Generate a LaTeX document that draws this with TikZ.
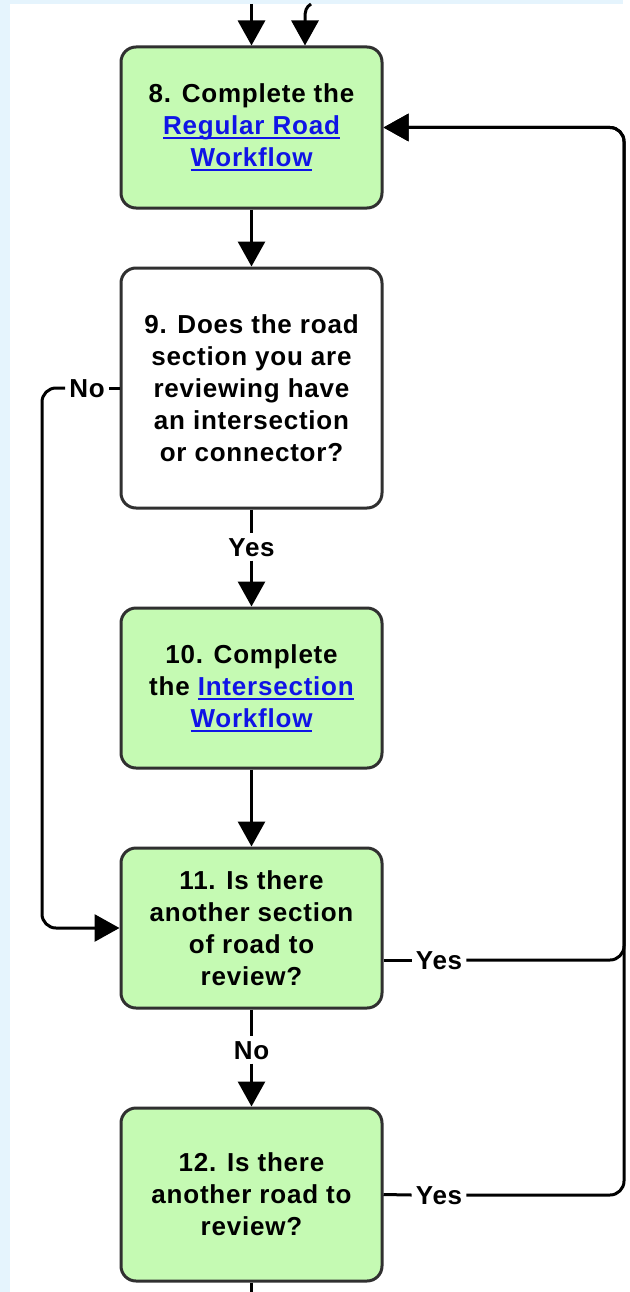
\documentclass[tikz,border=0pt]{standalone}
\usepackage{fontspec}
\setmainfont{Liberation Sans}[LetterSpace=3]
\usetikzlibrary{arrows.meta,calc}

\definecolor{pageblue}{RGB}{229,244,253}
\definecolor{stepgreen}{RGB}{197,250,179}
\definecolor{boxline}{RGB}{48,48,48}
\definecolor{linkblue}{RGB}{16,20,230}

% underlined hyperlink-style text at a fixed depth
\newcommand\lnk[1]{{\color{linkblue}\setbox0=\hbox{#1}\rlap{\rule[-4.5pt]{\wd0}{2pt}}\box0}}

\tikzset{
  stepbox/.style={draw=boxline, line width=3pt, rounded corners=15pt,
    minimum width=261pt, align=center, inner sep=0pt,
    font=\fontsize{26}{32}\selectfont\bfseries},
  greenbox/.style={stepbox, fill=stepgreen},
  whitebox/.style={stepbox, fill=white},
  conn/.style={line width=3pt, black},
  arr/.style={conn, -{Triangle[length=25pt,width=27pt]}},
  lbl/.style={fill=white, inner xsep=4pt, inner ysep=4pt, text height=19pt, text depth=0pt,
    font=\fontsize{26}{32}\selectfont\bfseries},
}

\begin{document}
\begin{tikzpicture}[x=1pt, y=-1pt]
  \useasboundingbox (0,0) rectangle (629,1292);
  % page background and panel
  \fill[pageblue] (0,0) rectangle (629,1292);
  \fill[white] (10,4) rectangle (629,1292);
  \fill[white] (623,0) rectangle (629,4);

  % steps
  \node[greenbox, minimum height=161pt] (b8) at (251.5,127.5)
    {8. Complete the\\ \lnk{Regular Road}\\ \lnk{Workflow}};
  \node[whitebox, minimum height=240pt] (b9) at (251.5,388)
    {9. Does the road\\ section you are\\ reviewing have\\ an intersection\\ or connector?};
  \node[greenbox, minimum height=160pt] (b10) at (251.5,688)
    {10. Complete\\ the \lnk{Intersection}\\ \lnk{Workflow}};
  \node[greenbox, minimum height=160pt] (b11) at (251.5,928)
    {11. Is there\\ another section\\ of road to\\ review?};
  \node[greenbox, minimum height=173pt] (b12) at (251.5,1194.5)
    {12. Is there\\ another road to\\ review?};

  % labels on connectors
  \node[lbl] (y9) at (251.5,547) {Yes};
  \node[lbl] (n9) at (87,388) {No};
  \node[lbl] (y11) at (439,960) {Yes};
  \node[lbl] (n11) at (251.5,1050) {No};
  \node[lbl] (y12) at (439,1195) {Yes};

  % rails and free ends
  \coordinate (rail) at (624,127.5);
  \coordinate (lrail) at (42,388);
  \coordinate (top1) at (251.5,4);
  \coordinate (top2) at (311,4);
  \coordinate (bot) at (251.5,1292);

  % incoming arrows from above
  \draw[arr] (top1) -- (b8.north);
  \draw[arr] (top2) .. controls (306,7) and (305,11) .. (305,18) -- ([xshift=53.5pt]b8.north);

  % main flow
  \draw[arr] (b8.south) -- (b9.north);
  \draw[conn] (b9.south) -- (y9.north);
  \draw[arr] (y9.south) -- (b10.north);
  \draw[arr] (b10.south) -- (b11.north);
  \draw[conn] (b11.south) -- (n11.north);
  \draw[arr] (n11.south) -- (b12.north);
  \draw[conn] (b12.south) -- (bot);

  % "No" branch around the left
  \draw[conn] (b9.west) -- (n9.east);
  \draw[arr, rounded corners=14pt] (n9.west) -- (lrail) -- (lrail |- b11.west) -- (b11.west);

  % "Yes" loops back to step 8
  \draw[conn] (b11.east |- y11) -- (y11.west);
  \draw[arr, rounded corners=14pt] (y11.east) -- (y11 -| rail) -- (rail) -- (b8.east);
  \draw[conn] (b12.east) -- (y12.west);
  \draw[arr, rounded corners=14pt] (y12.east) -- (y12 -| rail) -- (rail) -- (b8.east);
\end{tikzpicture}
\end{document}
